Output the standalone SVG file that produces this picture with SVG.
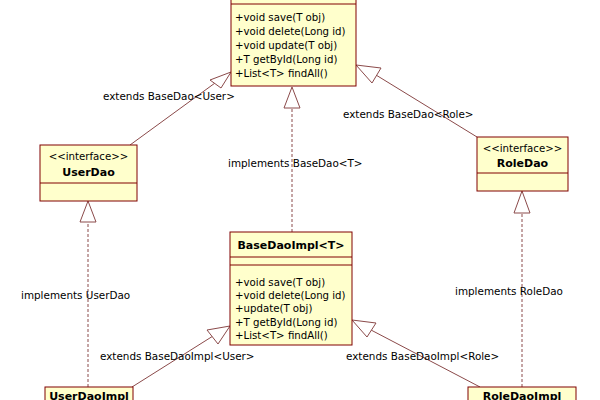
<svg xmlns="http://www.w3.org/2000/svg" width="600" height="400" viewBox="0 0 600 400">
<style>
.box{fill:#FFFFCC;stroke:#800000;stroke-width:1}
.sep{stroke:#800000;stroke-width:1}
.t{font-family:"DejaVu Sans",sans-serif;font-size:10.2px;fill:#000}
.b{font-family:"DejaVu Sans",sans-serif;font-size:11px;font-weight:bold;fill:#000}
.lbl{font-family:"DejaVu Sans",sans-serif;font-size:10.4px;fill:#000}
.ln{stroke:#8B4A4A;stroke-width:1;fill:none}
.dash{stroke:#8B4A4A;stroke-width:1;fill:none;stroke-dasharray:3,2}
.tri{fill:#fff;stroke:#8B4A4A;stroke-width:1}
</style>
<rect width="600" height="400" fill="#fff"/>
<g id="connectors">
  <line class="ln" x1="130" y1="145" x2="215" y2="83"/>
  <polygon class="tri" points="231,72 210,80 221,88"/>
  <line class="ln" x1="477" y1="137" x2="376" y2="75"/>
  <polygon class="tri" points="356,65 381,68 372,83"/>
  <line class="dash" x1="292" y1="232" x2="292" y2="108"/>
  <polygon class="tri" points="292,87 284,108 300,108"/>
  <line class="dash" x1="88" y1="387" x2="88" y2="222"/>
  <polygon class="tri" points="88,201 80,222 96,222"/>
  <line class="dash" x1="522" y1="387" x2="522" y2="213"/>
  <polygon class="tri" points="522,191 514,213 530,213"/>
  <line class="ln" x1="132" y1="387" x2="213" y2="336"/>
  <polygon class="tri" points="230,326 207,330 218,344"/>
  <line class="ln" x1="480" y1="387" x2="371" y2="330"/>
  <polygon class="tri" points="352,320 376,323 367,337"/>
  <text class="lbl" x="103" y="100">extends BaseDao&lt;User&gt;</text>
  <text class="lbl" x="343" y="118">extends BaseDao&lt;Role&gt;</text>
  <text class="lbl" x="228" y="167">implements BaseDao&lt;T&gt;</text>
  <text class="lbl" x="21" y="299">implements UserDao</text>
  <text class="lbl" x="455" y="295">implements RoleDao</text>
  <text class="lbl" x="100" y="360">extends BaseDaoImpl&lt;User&gt;</text>
  <text class="lbl" x="346" y="360">extends BaseDaoImpl&lt;Role&gt;</text>
</g>
<g id="BaseDao">
  <rect class="box" x="231" y="-30" width="125" height="116"/>
  <line class="sep" x1="231" y1="4" x2="356" y2="4"/>
  <text class="t" x="235" y="21">+void save(T obj)</text>
  <text class="t" x="235" y="35">+void delete(Long id)</text>
  <text class="t" x="235" y="49">+void update(T obj)</text>
  <text class="t" x="235" y="63">+T getById(Long id)</text>
  <text class="t" x="235" y="77">+List&lt;T&gt; findAll()</text>
</g>
<g id="UserDao">
  <rect class="box" x="40" y="145" width="97" height="56"/>
  <line class="sep" x1="40" y1="183" x2="137" y2="183"/>
  <text class="t" x="88.5" y="160" text-anchor="middle">&lt;&lt;interface&gt;&gt;</text>
  <text class="b" x="88.5" y="176" text-anchor="middle">UserDao</text>
</g>
<g id="RoleDao">
  <rect class="box" x="477" y="137" width="91" height="54"/>
  <line class="sep" x1="477" y1="173" x2="568" y2="173"/>
  <text class="t" x="522.5" y="152" text-anchor="middle">&lt;&lt;interface&gt;&gt;</text>
  <text class="b" x="522.5" y="167" text-anchor="middle">RoleDao</text>
</g>
<g id="BaseDaoImpl">
  <rect class="box" x="230" y="232" width="122" height="113"/>
  <line class="sep" x1="230" y1="257" x2="352" y2="257"/>
  <line class="sep" x1="230" y1="265" x2="352" y2="265"/>
  <text class="b" x="291" y="249" text-anchor="middle">BaseDaoImpl&lt;T&gt;</text>
  <text class="t" x="235" y="286">+void save(T obj)</text>
  <text class="t" x="235" y="299">+void delete(Long id)</text>
  <text class="t" x="235" y="312">+update(T obj)</text>
  <text class="t" x="235" y="326">+T getById(Long id)</text>
  <text class="t" x="235" y="339">+List&lt;T&gt; findAll()</text>
</g>
<g id="UserDaoImpl">
  <rect class="box" x="45" y="387" width="88" height="30"/>
  <text class="b" x="89" y="400" text-anchor="middle">UserDaoImpl</text>
</g>
<g id="RoleDaoImpl">
  <rect class="box" x="468" y="387" width="108" height="30"/>
  <text class="b" x="522" y="400" text-anchor="middle">RoleDaoImpl</text>
</g>
</svg>
